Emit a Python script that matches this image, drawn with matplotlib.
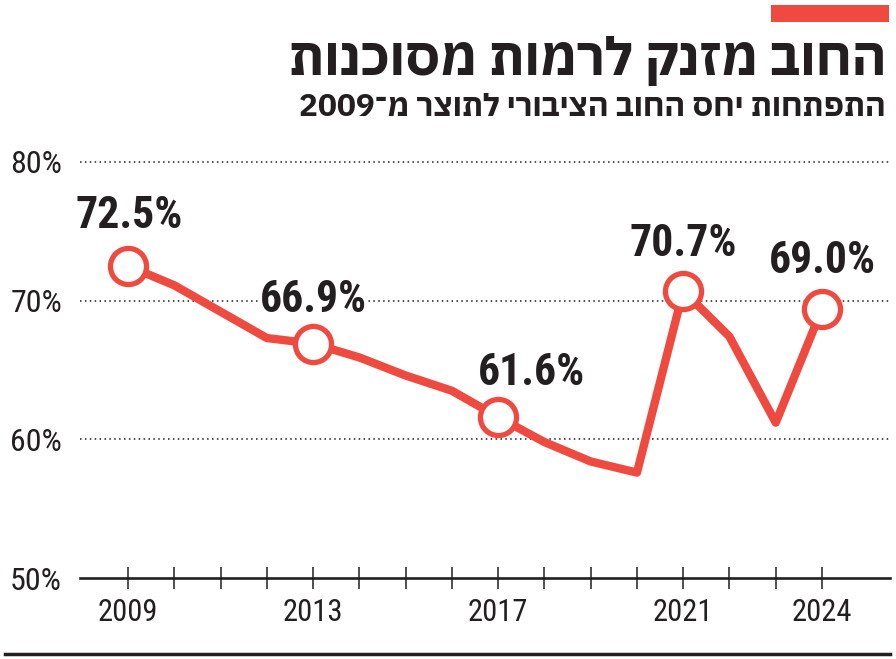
import re
import matplotlib
matplotlib.use("Agg")
import matplotlib.pyplot as plt
from matplotlib.lines import Line2D
from matplotlib.patches import Rectangle

# ── data ──────────────────────────────────────────────────────
years = list(range(2009, 2025))
debt_ratio = [72.5, 71.1, 69.2, 67.3, 66.9, 65.9, 64.6, 63.5,
              61.6, 59.8, 58.4, 57.6, 70.7, 67.4, 61.2, 69.4]
label_years = [2009, 2013, 2017, 2021, 2024]
label_text = ["72.5%", "66.9%", "61.6%", "70.7%", "69.0%"]
y_ticks = [50, 60, 70, 80]
y_tick_labels = ["50%", "60%", "70%", "80%"]
x_tick_labels = [str(y) if y in label_years else "" for y in years]

title = "החוב מזנק לרמות מסוכנות"
subtitle = "התפתחות יחס החוב הציבורי לתוצר מ־2009"

RED = "#ef4a3f"
INK = "#231f20"
NARROW = ["Roboto Condensed", "DejaVu Sans"]
HEBREW = ["IBM Plex Sans Hebrew", "DejaVu Sans"]
plt.rcParams["font.family"] = NARROW


def visual(s):
    """matplotlib has no bidi: put Hebrew in visual order, keep digit runs LTR."""
    runs = re.findall(r"\d+|\D+", s)
    return "".join(r if r.isdigit() else r[::-1] for r in reversed(runs))


fig = plt.figure(figsize=(8.96, 6.59), dpi=100)
ax = fig.add_axes([80 / 896, 81 / 659, 810 / 896, 438 / 659])
ax.set_xlim(2007.96, 2025.47)
ax.set_ylim(50, 81.58)

for side in ["top", "right", "left"]:
    ax.spines[side].set_visible(False)
ax.spines["bottom"].set_linewidth(1.9)
ax.spines["bottom"].set_color(INK)

for v in y_ticks[1:]:
    ax.axhline(v, color=INK, lw=1.1, ls=(0, (1, 2.2)), zorder=1)

ax.plot(years, debt_ratio, color=RED, lw=6, solid_joinstyle="round",
        solid_capstyle="round", zorder=3)
marked = [debt_ratio[years.index(y)] for y in label_years]
ax.plot(label_years, marked, "o", ms=26, mfc="white", mec=RED, mew=3.8,
        ls="none", zorder=4)

# label offsets (points) from each circle to the text baseline
offsets = {2009: (1, 27), 2013: (0, 23), 2017: (24, 23), 2021: (0, 25), 2024: (0, 26)}
for yr, val, txt in zip(label_years, marked, label_text):
    ax.annotate(txt, (yr, val), xytext=offsets[yr], textcoords="offset points",
                ha="center", va="baseline", fontsize=31.5, fontweight="bold",
                color=INK, bbox=dict(fc="white", ec="none", pad=1), zorder=5)

ax.set_xticks(years)
ax.set_xticklabels(x_tick_labels)
ax.tick_params(axis="x", direction="inout", length=16, width=1.1, color=INK,
               pad=6.5, labelsize=22, labelcolor=INK)
ax.set_yticks(y_ticks)
ax.set_yticklabels(y_tick_labels)
ax.tick_params(axis="y", length=0, pad=13, labelsize=23, labelcolor=INK)

# ── header / footer ───────────────────────────────────────────
fig.add_artist(Rectangle((771 / 896, 1 - 22 / 659), 118 / 896, 17 / 659,
                         transform=fig.transFigure, color=RED, lw=0))
t1 = fig.text(886 / 896, 1 - 61 / 659, visual(title), ha="right", va="center",
              fontsize=34, fontweight="bold", color=INK, family=HEBREW)
t2 = fig.text(886 / 896, 1 - 107 / 659, visual(subtitle), ha="right", va="center",
              fontsize=20, fontweight="bold", color=INK, family=HEBREW)
fig.add_artist(Line2D([5 / 896, 890 / 896], [5 / 659, 5 / 659],
                      transform=fig.transFigure, color=INK, lw=2.5))

fig.canvas.draw()
renderer = fig.canvas.get_renderer()
for txt, target in [(t1, 597), (t2, 586)]:
    w = txt.get_window_extent(renderer).width
    txt.set_fontsize(txt.get_fontsize() * target / w)

fig.savefig("out.png", dpi=100)
